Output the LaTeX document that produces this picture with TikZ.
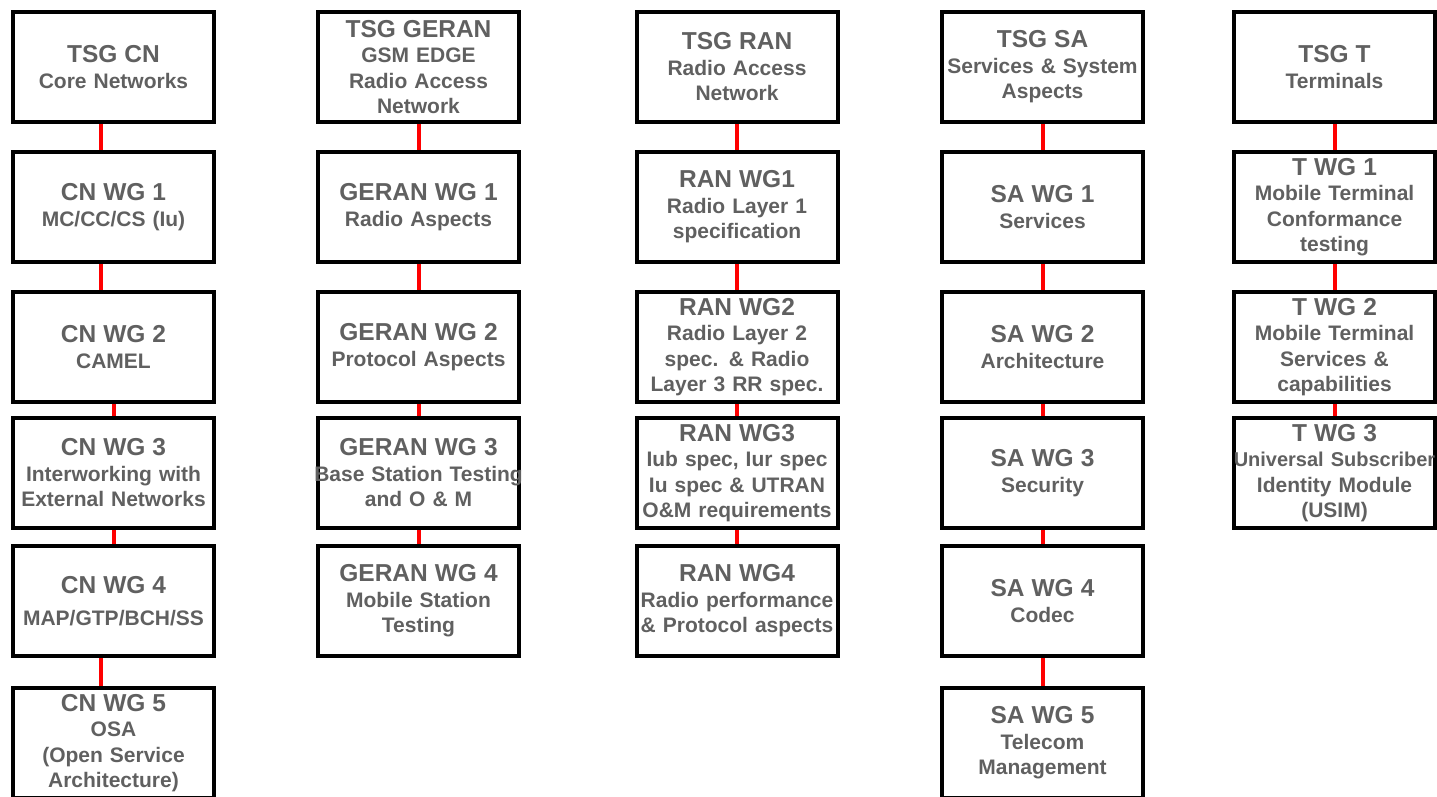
\documentclass[tikz,border=0pt]{standalone}
\usepackage{fontspec}
\setmainfont{Liberation Sans}
\usepackage{xcolor}
\definecolor{Grisletra}{RGB}{96,96,96}
\usepackage{tikz}
\newcommand{\grtitulo}[1]{{\fontsize{24.5}{26}\selectfont #1}}
\newcommand{\ancho}[1]{\makebox[0pt]{#1}}

\begin{document}
\begin{tikzpicture}[
  x=1pt, y=-1pt,
  every node/.style={font=\fontsize{21}{25.5}\selectfont\bfseries},
  grupo/.style={
    rectangle, draw=black, line width=4pt,
    minimum width=201pt, minimum height=110pt,
    text width=201pt, inner sep=0pt,
    align=center, text=Grisletra
  },
  enlace/.style={draw=red, line width=4pt}
]
  \path[use as bounding box, clip] (0,0) rectangle (1437,796);

  % --- TSG CN ---
  \node[grupo] (tsgcn) at (113.5, 67)  {\grtitulo{TSG CN}\\Core Networks};
  \node[grupo] (cn1)   at (113.5, 207) {\grtitulo{CN WG 1}\\MC/CC/CS (Iu)};
  \node[grupo] (cn2)   at (113.5, 347) {\grtitulo{CN WG 2}\\CAMEL};
  \node[grupo] (cn3)   at (113.5, 473) {\grtitulo{CN WG 3}\\Interworking with\\External Networks};
  \node[grupo] (cn4)   at (113.5, 601) {\grtitulo{CN WG 4}\\[6pt]MAP/GTP/BCH/SS};
  \node[grupo] (cn5)   at (113.5, 743) {\grtitulo{CN WG 5}\\OSA\\(Open Service\\Architecture)};

  % --- TSG GERAN ---
  \node[grupo] (tsggeran) at (418.5, 67)  {\grtitulo{TSG GERAN}\\GSM EDGE\\Radio Access\\Network};
  \node[grupo] (geran1)   at (418.5, 207) {\grtitulo{GERAN WG 1}\\Radio Aspects};
  \node[grupo] (geran2)   at (418.5, 347) {\grtitulo{GERAN WG 2}\\Protocol Aspects};
  \node[grupo] (geran3)   at (418.5, 473) {\grtitulo{GERAN WG 3}\\\ancho{Base Station Testing}\\and O \& M};
  \node[grupo] (geran4)   at (418.5, 601) {\grtitulo{GERAN WG 4}\\Mobile Station\\Testing};

  % --- TSG RAN ---
  \node[grupo] (tsgran) at (737, 67)  {\grtitulo{TSG RAN}\\Radio Access\\Network};
  \node[grupo] (ran1)   at (737, 207) {\grtitulo{RAN WG1}\\Radio Layer 1\\specification};
  \node[grupo] (ran2)   at (737, 347) {\grtitulo{RAN WG2}\\Radio Layer 2\\spec. \& Radio\\Layer 3 RR spec.};
  \node[grupo] (ran3)   at (737, 473) {\grtitulo{RAN WG3}\\Iub spec, Iur spec\\Iu spec \& UTRAN\\O\&M requirements};
  \node[grupo] (ran4)   at (737, 601) {\grtitulo{RAN WG4}\\Radio performance\\\& Protocol aspects};

  % --- TSG SA ---
  \node[grupo] (tsgsa) at (1042.5, 67)  {\grtitulo{TSG SA}\\Services \& System\\Aspects};
  \node[grupo] (sa1)   at (1042.5, 207) {\grtitulo{SA WG 1}\\Services};
  \node[grupo] (sa2)   at (1042.5, 347) {\grtitulo{SA WG 2}\\Architecture};
  \node[grupo] (sa3)   at (1042.5, 473) {\grtitulo{SA WG 3}\\Security};
  \node[grupo] (sa4)   at (1042.5, 601) {\grtitulo{SA WG 4}\\Codec};
  \node[grupo] (sa5)   at (1042.5, 743) {\grtitulo{SA WG 5}\\Telecom\\Management};

  % --- TSG T ---
  \node[grupo] (tsgt) at (1334.5, 67)  {\grtitulo{TSG T}\\Terminals};
  \node[grupo] (t1)   at (1334.5, 207) {\grtitulo{T WG 1}\\Mobile Terminal\\Conformance\\testing};
  \node[grupo] (t2)   at (1334.5, 347) {\grtitulo{T WG 2}\\Mobile Terminal\\Services \&\\capabilities};
  \node[grupo] (t3)   at (1334.5, 473) {\grtitulo{T WG 3}\\\ancho{\fontsize{20}{25.5}\selectfont Universal Subscriber}\\Identity Module\\(USIM)};

  % --- Enlaces ---
  \draw[enlace] ([xshift=-12.5pt]tsgcn.south) -- ([xshift=-12.5pt]cn1.north);
  \draw[enlace] ([xshift=-12.5pt]cn1.south) -- ([xshift=-12.5pt]cn2.north);
  \draw[enlace] (cn2) -- (cn3);
  \draw[enlace] (cn3) -- (cn4);
  \draw[enlace] ([xshift=-12.5pt]cn4.south) -- ([xshift=-12.5pt]cn5.north);

  \draw[enlace] (tsggeran) -- (geran1);
  \draw[enlace] (geran1) -- (geran2);
  \draw[enlace] (geran2) -- (geran3);
  \draw[enlace] (geran3) -- (geran4);

  \draw[enlace] (tsgran) -- (ran1);
  \draw[enlace] (ran1) -- (ran2);
  \draw[enlace] (ran2) -- (ran3);
  \draw[enlace] (ran3) -- (ran4);

  \draw[enlace] (tsgsa) -- (sa1);
  \draw[enlace] (sa1) -- (sa2);
  \draw[enlace] (sa2) -- (sa3);
  \draw[enlace] (sa3) -- (sa4);
  \draw[enlace] (sa4) -- (sa5);

  \draw[enlace] (tsgt) -- (t1);
  \draw[enlace] (t1) -- (t2);
  \draw[enlace] (t2) -- (t3);
\end{tikzpicture}
\end{document}
